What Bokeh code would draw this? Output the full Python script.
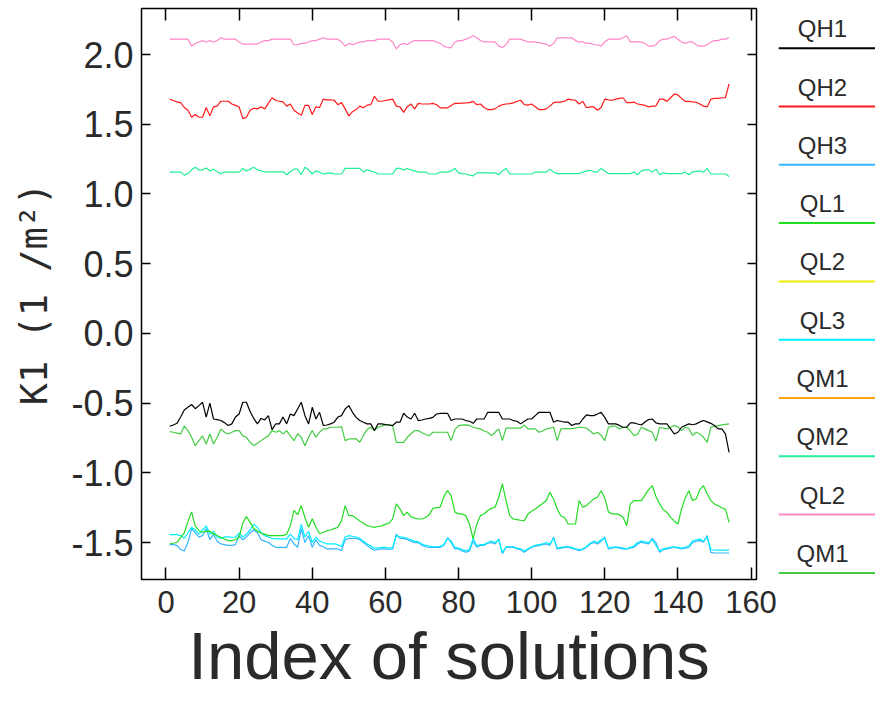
from bokeh.plotting import figure
from bokeh.models import (Range1d, LinearAxis, FixedTicker, PrintfTickFormatter,
                          CustomLabelingPolicy, Title)
from bokeh.layouts import row
from bokeh.embed import file_html
from bokeh.resources import INLINE
from bokeh.core.properties import value

# ---------------- data ----------------
QH1 = [-0.666, -0.657, -0.645, -0.60, -0.55, -0.53, -0.51, -0.54, -0.518, -0.494,
       -0.60, -0.50, -0.614, -0.618, -0.625, -0.64, -0.661, -0.649, -0.60, -0.578,
       -0.494, -0.494, -0.56, -0.61, -0.649, -0.61, -0.62, -0.59, -0.69, -0.649,
       -0.649, -0.60, -0.649, -0.578, -0.59, -0.542, -0.494, -0.59, -0.649, -0.53,
       -0.614, -0.566, -0.66, -0.657, -0.649, -0.637, -0.60, -0.590, -0.542, -0.518,
       -0.566, -0.602, -0.625, -0.637, -0.649, -0.649, -0.697, -0.649, -0.649, -0.654,
       -0.657, -0.661, -0.637, -0.637, -0.573, -0.60, -0.614, -0.573, -0.625, -0.621,
       -0.614, -0.61, -0.602, -0.578, -0.573, -0.573, -0.573, -0.625, -0.614, -0.614,
       -0.614, -0.625, -0.630, -0.645, -0.614, -0.614, -0.614, -0.566, -0.566, -0.566,
       -0.566, -0.614, -0.614, -0.614, -0.625, -0.63, -0.649, -0.63, -0.614, -0.614,
       -0.59, -0.566, -0.566, -0.566, -0.566, -0.637, -0.625, -0.63, -0.637, -0.637,
       -0.661, -0.649, -0.649, -0.614, -0.585, -0.590, -0.590, -0.578, -0.566, -0.602,
       -0.649, -0.649, -0.649, -0.66, -0.673, -0.673, -0.642, -0.642, -0.650, -0.657,
       -0.635, -0.618, -0.614, -0.642, -0.649, -0.649, -0.649, -0.685, -0.721, -0.709,
       -0.673, -0.661, -0.649, -0.655, -0.649, -0.635, -0.625, -0.635, -0.645, -0.661,
       -0.685, -0.685, -0.721, -0.853]

QH2 = [1.68, 1.67, 1.66, 1.655, 1.62, 1.60, 1.55, 1.57, 1.55, 1.55,
       1.62, 1.56, 1.625, 1.63, 1.665, 1.665, 1.665, 1.645, 1.635, 1.625,
       1.54, 1.55, 1.60, 1.615, 1.61, 1.625, 1.61, 1.65, 1.69, 1.67,
       1.665, 1.66, 1.63, 1.645, 1.60, 1.58, 1.565, 1.635, 1.635, 1.57,
       1.625, 1.62, 1.68, 1.675, 1.675, 1.672, 1.64, 1.655, 1.61, 1.56,
       1.59, 1.605, 1.63, 1.618, 1.637, 1.64, 1.70, 1.665, 1.665, 1.67,
       1.675, 1.68, 1.63, 1.625, 1.585, 1.626, 1.645, 1.61, 1.65, 1.645,
       1.645, 1.645, 1.65, 1.64, 1.618, 1.618, 1.618, 1.635, 1.65, 1.65,
       1.652, 1.653, 1.655, 1.664, 1.64, 1.645, 1.62, 1.605, 1.605, 1.61,
       1.63, 1.64, 1.645, 1.648, 1.653, 1.665, 1.672, 1.64, 1.637, 1.645,
       1.625, 1.605, 1.605, 1.61, 1.63, 1.655, 1.658, 1.658, 1.665, 1.68,
       1.675, 1.672, 1.645, 1.664, 1.618, 1.625, 1.624, 1.600, 1.62, 1.68,
       1.675, 1.672, 1.68, 1.685, 1.69, 1.655, 1.655, 1.658, 1.645, 1.64,
       1.635, 1.624, 1.63, 1.632, 1.68, 1.68, 1.664, 1.69, 1.717, 1.71,
       1.685, 1.664, 1.664, 1.66, 1.658, 1.645, 1.63, 1.624, 1.68, 1.685,
       1.685, 1.69, 1.69, 1.79]

QH3 = [-1.515, -1.515, -1.52, -1.55, -1.56, -1.50, -1.40, -1.43, -1.46, -1.45,
       -1.40, -1.48, -1.44, -1.49, -1.51, -1.515, -1.52, -1.52, -1.515, -1.45,
       -1.48, -1.46, -1.43, -1.41, -1.43, -1.48, -1.49, -1.50, -1.52, -1.534,
       -1.534, -1.534, -1.534, -1.47, -1.51, -1.534, -1.40, -1.50, -1.45, -1.534,
       -1.48, -1.52, -1.53, -1.546, -1.546, -1.546, -1.546, -1.558, -1.48, -1.47,
       -1.47, -1.47, -1.48, -1.50, -1.52, -1.54, -1.555, -1.55, -1.545, -1.545,
       -1.55, -1.545, -1.44, -1.47, -1.47, -1.48, -1.49, -1.50, -1.50, -1.52,
       -1.53, -1.535, -1.535, -1.534, -1.534, -1.52, -1.465, -1.50, -1.545, -1.545,
       -1.56, -1.57, -1.56, -1.49, -1.534, -1.52, -1.52, -1.505, -1.50, -1.51,
       -1.474, -1.58, -1.534, -1.534, -1.534, -1.546, -1.55, -1.57, -1.55, -1.534,
       -1.525, -1.522, -1.515, -1.51, -1.52, -1.462, -1.546, -1.540, -1.535, -1.534,
       -1.54, -1.55, -1.558, -1.55, -1.534, -1.51, -1.50, -1.51, -1.49, -1.462,
       -1.546, -1.540, -1.534, -1.540, -1.546, -1.546, -1.540, -1.534, -1.51, -1.498,
       -1.505, -1.51, -1.47, -1.50, -1.57, -1.55, -1.546, -1.54, -1.534, -1.540,
       -1.546, -1.540, -1.534, -1.50, -1.49, -1.486, -1.498, -1.45, -1.57, -1.575,
       -1.575, -1.575, -1.575, -1.575]

QL1 = [-1.510, -1.505, -1.498, -1.465, -1.43, -1.35, -1.28, -1.38, -1.415, -1.426,
       -1.42, -1.418, -1.438, -1.45, -1.462, -1.475, -1.486, -1.486, -1.478, -1.462,
       -1.36, -1.314, -1.355, -1.40, -1.418, -1.432, -1.44, -1.45, -1.45, -1.45,
       -1.45, -1.45, -1.44, -1.38, -1.27, -1.30, -1.235, -1.32, -1.391, -1.33,
       -1.39, -1.435, -1.428, -1.415, -1.41, -1.40, -1.39, -1.343, -1.235, -1.307,
       -1.307, -1.325, -1.345, -1.36, -1.379, -1.385, -1.391, -1.385, -1.380, -1.370,
       -1.36, -1.33, -1.223, -1.259, -1.307, -1.283, -1.315, -1.325, -1.331, -1.331,
       -1.320, -1.300, -1.255, -1.250, -1.245, -1.170, -1.128, -1.165, -1.28, -1.295,
       -1.295, -1.307, -1.367, -1.474, -1.367, -1.307, -1.295, -1.270, -1.255, -1.247,
       -1.175, -1.080, -1.200, -1.307, -1.331, -1.335, -1.340, -1.343, -1.295, -1.275,
       -1.26, -1.240, -1.220, -1.199, -1.140, -1.190, -1.260, -1.310, -1.320, -1.367,
       -1.367, -1.367, -1.199, -1.247, -1.235, -1.210, -1.187, -1.175, -1.128, -1.180,
       -1.280, -1.295, -1.295, -1.300, -1.319, -1.379, -1.223, -1.199, -1.199, -1.199,
       -1.160, -1.120, -1.092, -1.170, -1.223, -1.265, -1.283, -1.319, -1.345, -1.367,
       -1.259, -1.180, -1.128, -1.199, -1.187, -1.120, -1.092, -1.150, -1.199, -1.223,
       -1.235, -1.250, -1.262, -1.355]

QL3 = [-1.443, -1.443, -1.443, -1.45, -1.47, -1.43, -1.39, -1.41, -1.44, -1.41,
       -1.38, -1.44, -1.42, -1.46, -1.47, -1.46, -1.46, -1.462, -1.462, -1.43,
       -1.46, -1.44, -1.41, -1.37, -1.39, -1.43, -1.45, -1.46, -1.47, -1.474,
       -1.474, -1.474, -1.474, -1.44, -1.47, -1.48, -1.37, -1.46, -1.42, -1.50,
       -1.46, -1.49, -1.50, -1.51, -1.51, -1.51, -1.515, -1.53, -1.46, -1.45,
       -1.455, -1.46, -1.47, -1.49, -1.51, -1.525, -1.54, -1.54, -1.535, -1.535,
       -1.54, -1.535, -1.45, -1.46, -1.462, -1.47, -1.48, -1.49, -1.495, -1.51,
       -1.52, -1.525, -1.53, -1.53, -1.528, -1.515, -1.47, -1.49, -1.535, -1.54,
       -1.55, -1.56, -1.55, -1.47, -1.525, -1.515, -1.515, -1.50, -1.49, -1.50,
       -1.48, -1.57, -1.53, -1.53, -1.53, -1.54, -1.545, -1.56, -1.545, -1.53,
       -1.52, -1.515, -1.51, -1.50, -1.51, -1.47, -1.54, -1.535, -1.53, -1.53,
       -1.535, -1.545, -1.55, -1.545, -1.53, -1.505, -1.49, -1.50, -1.48, -1.47,
       -1.54, -1.535, -1.53, -1.535, -1.54, -1.545, -1.535, -1.525, -1.50, -1.49,
       -1.495, -1.50, -1.48, -1.52, -1.56, -1.545, -1.54, -1.535, -1.53, -1.535,
       -1.54, -1.535, -1.525, -1.49, -1.48, -1.475, -1.49, -1.46, -1.55, -1.555,
       -1.555, -1.555, -1.555, -1.555]

QM2 = [1.157, 1.157, 1.157, 1.157, 1.135, 1.146, 1.173, 1.191, 1.173, 1.173,
       1.186, 1.165, 1.178, 1.159, 1.146, 1.157, 1.157, 1.157, 1.157, 1.157,
       1.183, 1.165, 1.178, 1.191, 1.173, 1.165, 1.159, 1.159, 1.159, 1.159,
       1.159, 1.159, 1.138, 1.159, 1.178, 1.178, 1.138, 1.191, 1.173, 1.143,
       1.165, 1.157, 1.143, 1.148, 1.151, 1.143, 1.143, 1.143, 1.183, 1.183,
       1.183, 1.183, 1.183, 1.157, 1.173, 1.165, 1.157, 1.143, 1.143, 1.143,
       1.143, 1.143, 1.183, 1.183, 1.173, 1.183, 1.173, 1.165, 1.157, 1.157,
       1.157, 1.143, 1.143, 1.143, 1.157, 1.157, 1.157, 1.165, 1.183, 1.151,
       1.146, 1.143, 1.135, 1.130, 1.151, 1.151, 1.151, 1.151, 1.151, 1.151,
       1.138, 1.165, 1.183, 1.143, 1.143, 1.143, 1.143, 1.143, 1.143, 1.143,
       1.157, 1.157, 1.157, 1.157, 1.178, 1.157, 1.146, 1.146, 1.146, 1.146,
       1.146, 1.146, 1.146, 1.157, 1.165, 1.170, 1.159, 1.159, 1.183, 1.165,
       1.146, 1.146, 1.146, 1.146, 1.146, 1.146, 1.146, 1.157, 1.138, 1.165,
       1.173, 1.173, 1.157, 1.178, 1.138, 1.151, 1.146, 1.146, 1.146, 1.146,
       1.146, 1.157, 1.138, 1.159, 1.162, 1.165, 1.157, 1.183, 1.143, 1.143,
       1.143, 1.143, 1.143, 1.125]

QL2_pink = [2.11, 2.11, 2.11, 2.11, 2.11, 2.11, 2.06, 2.08, 2.09, 2.10,
            2.09, 2.10, 2.09, 2.10, 2.12, 2.11, 2.11, 2.11, 2.11, 2.09,
            2.075, 2.075, 2.075, 2.075, 2.075, 2.09, 2.10, 2.10, 2.11, 2.11,
            2.11, 2.11, 2.11, 2.11, 2.07, 2.07, 2.08, 2.08, 2.09, 2.10,
            2.10, 2.11, 2.12, 2.11, 2.11, 2.11, 2.11, 2.09, 2.06, 2.08,
            2.07, 2.08, 2.09, 2.09, 2.10, 2.10, 2.10, 2.11, 2.11, 2.11,
            2.11, 2.09, 2.04, 2.07, 2.08, 2.07, 2.09, 2.10, 2.10, 2.10,
            2.10, 2.10, 2.10, 2.09, 2.08, 2.06, 2.05, 2.05, 2.09, 2.10,
            2.10, 2.11, 2.12, 2.135, 2.12, 2.10, 2.09, 2.09, 2.09, 2.09,
            2.06, 2.05, 2.07, 2.11, 2.11, 2.11, 2.11, 2.10, 2.09, 2.09,
            2.09, 2.085, 2.08, 2.075, 2.06, 2.08, 2.12, 2.12, 2.12, 2.12,
            2.12, 2.10, 2.09, 2.09, 2.08, 2.08, 2.07, 2.07, 2.06, 2.09,
            2.11, 2.11, 2.11, 2.11, 2.12, 2.135, 2.09, 2.09, 2.09, 2.09,
            2.08, 2.06, 2.06, 2.07, 2.10, 2.11, 2.11, 2.12, 2.13, 2.11,
            2.09, 2.08, 2.09, 2.09, 2.07, 2.06, 2.06, 2.07, 2.09, 2.10,
            2.10, 2.11, 2.11, 2.12]

QM1_green = [-0.705, -0.709, -0.715, -0.721, -0.665, -0.697, -0.745, -0.805, -0.769, -0.735,
             -0.793, -0.721, -0.793, -0.745, -0.685, -0.709, -0.721, -0.709, -0.697, -0.697,
             -0.735, -0.745, -0.781, -0.805, -0.788, -0.769, -0.750, -0.735, -0.697, -0.709,
             -0.697, -0.721, -0.697, -0.735, -0.769, -0.720, -0.745, -0.805, -0.745, -0.697,
             -0.745, -0.709, -0.685, -0.685, -0.673, -0.673, -0.673, -0.669, -0.769, -0.757,
             -0.757, -0.757, -0.781, -0.730, -0.690, -0.673, -0.697, -0.673, -0.665, -0.656,
             -0.656, -0.661, -0.781, -0.781, -0.781, -0.745, -0.720, -0.697, -0.697, -0.712,
             -0.725, -0.733, -0.709, -0.709, -0.709, -0.709, -0.709, -0.769, -0.690, -0.662,
             -0.658, -0.656, -0.660, -0.673, -0.680, -0.685, -0.700, -0.709, -0.733, -0.709,
             -0.685, -0.769, -0.680, -0.680, -0.680, -0.680, -0.680, -0.656, -0.685, -0.685,
             -0.685, -0.709, -0.700, -0.685, -0.680, -0.673, -0.769, -0.685, -0.683, -0.683,
             -0.683, -0.680, -0.673, -0.675, -0.680, -0.700, -0.721, -0.709, -0.730, -0.769,
             -0.673, -0.665, -0.665, -0.685, -0.675, -0.673, -0.700, -0.733, -0.721, -0.673,
             -0.685, -0.697, -0.710, -0.773, -0.673, -0.680, -0.685, -0.673, -0.661, -0.670,
             -0.697, -0.673, -0.680, -0.733, -0.709, -0.721, -0.745, -0.781, -0.673, -0.665,
             -0.661, -0.656, -0.652, -0.649]

legend_labels = ["QH1", "QH2", "QH3", "QL1", "QL2", "QL3", "QM1", "QM2", "QL2", "QM1"]
legend_colors = ["#000000", "#ff1a1a", "#33b5ff", "#22dd22", "#eeee00",
                 "#00eeff", "#ffa31a", "#22ee99", "#ff88c8", "#44cc44"]

x_ticks = [0, 20, 40, 60, 80, 100, 120, 140, 160]
y_ticks = [-1.5, -1.0, -0.5, 0.0, 0.5, 1.0, 1.5, 2.0]
x_title = "Index of solutions"
y_title = "K1 (1 /m\u00b2)"

# series drawn in the plot, with the index of their legend colour
plotted = [(QH3, 2), (QL3, 5), (QL1, 3), (QM1_green, 9), (QH1, 0),
           (QM2, 7), (QH2, 1), (QL2_pink, 8)]

TXT = "#2a2a2a"
FONT = "Liberation Sans"
MAIN_W = 778

p = figure(width=MAIN_W, height=702,
           x_range=Range1d(-6.7, 161.5), y_range=Range1d(-1.765, 2.33),
           output_backend="svg", toolbar_location=None,
           min_border_left=141, min_border_right=MAIN_W - 756,
           min_border_top=8, min_border_bottom=123)
p.grid.visible = False
p.outline_line_color = "black"
p.outline_line_width = 1.5

for ys, ci in plotted:
    xs = list(range(1, len(ys) + 1))
    p.line(xs, ys, line_color=legend_colors[ci], line_width=1.2)

xa = p.xaxis[0]
xa.ticker = FixedTicker(ticks=x_ticks)
xa.major_label_text_font = FONT
xa.major_label_text_font_size = "31px"
xa.major_label_text_color = TXT
xa.major_label_standoff = 11
xa.major_tick_in = 12
xa.major_tick_out = 0
xa.minor_tick_in = 0
xa.minor_tick_out = 0
xa.axis_line_color = None
xa.major_tick_line_color = "black"
xa.major_tick_line_width = 1.5

# x-axis title in the panel below the axis
p.add_layout(Title(text=x_title, align="center", text_font=FONT,
                   text_font_size="67px", text_font_style="normal",
                   text_color=TXT, standoff=0), "below")

ya = p.yaxis[0]
ya.ticker = FixedTicker(ticks=y_ticks)
ya.formatter = PrintfTickFormatter(format="%.1f")
ya.axis_label = y_title
ya.axis_label_text_font = "DejaVu Sans Mono"
ya.axis_label_text_font_size = "37px"
ya.axis_label_text_font_style = "normal"
ya.axis_label_text_color = TXT
ya.axis_label_standoff = 12
ya.major_label_text_font = FONT
ya.major_label_text_font_size = "36px"
ya.major_label_text_color = TXT
ya.major_label_standoff = 8
ya.major_tick_in = 9
ya.major_tick_out = 0
ya.minor_tick_in = 0
ya.minor_tick_out = 0
ya.axis_line_color = None
ya.major_tick_line_color = "black"
ya.major_tick_line_width = 1.5

no_labels = CustomLabelingPolicy(code="""
for (const i of indices) { indices.unset(i) }
return indices
""")

top = LinearAxis(ticker=FixedTicker(ticks=x_ticks), major_label_policy=no_labels,
                 major_label_text_font_size="1px",
                 major_label_standoff=0, major_tick_in=12, major_tick_out=0,
                 minor_tick_in=0, minor_tick_out=0, axis_line_color=None,
                 major_tick_line_width=1.5)
p.add_layout(top, "above")
right = LinearAxis(ticker=FixedTicker(ticks=y_ticks), major_label_policy=no_labels,
                   major_label_text_font_size="1px",
                   major_label_standoff=0, major_tick_in=9, major_tick_out=0,
                   minor_tick_in=0, minor_tick_out=0, axis_line_color=None,
                   major_tick_line_width=1.5)
p.add_layout(right, "right")

# ---------------- legend panel (frame aligned with the main frame: y 8..579) ----------------
leg = figure(width=875 - MAIN_W, height=702, x_range=Range1d(MAIN_W, 875), y_range=Range1d(579, 8),
             output_backend="svg", toolbar_location=None, min_border=0,
             x_axis_location=None, y_axis_location=None)
leg.grid.visible = False
leg.outline_line_color = None
row_y = [47.7 + 58.3 * k for k in range(len(legend_labels))]
leg.segment(x0=MAIN_W, y0=row_y, x1=875, y1=row_y, line_color=legend_colors, line_width=2)
leg.text(x=822, y=[yy - 19.5 for yy in row_y], text=legend_labels,
         text_align="center", text_baseline="alphabetic",
         text_font=value(FONT), text_font_size="24px", text_color=TXT)

layout = row(p, leg)
open("out.html", "w").write(file_html(layout, INLINE))
